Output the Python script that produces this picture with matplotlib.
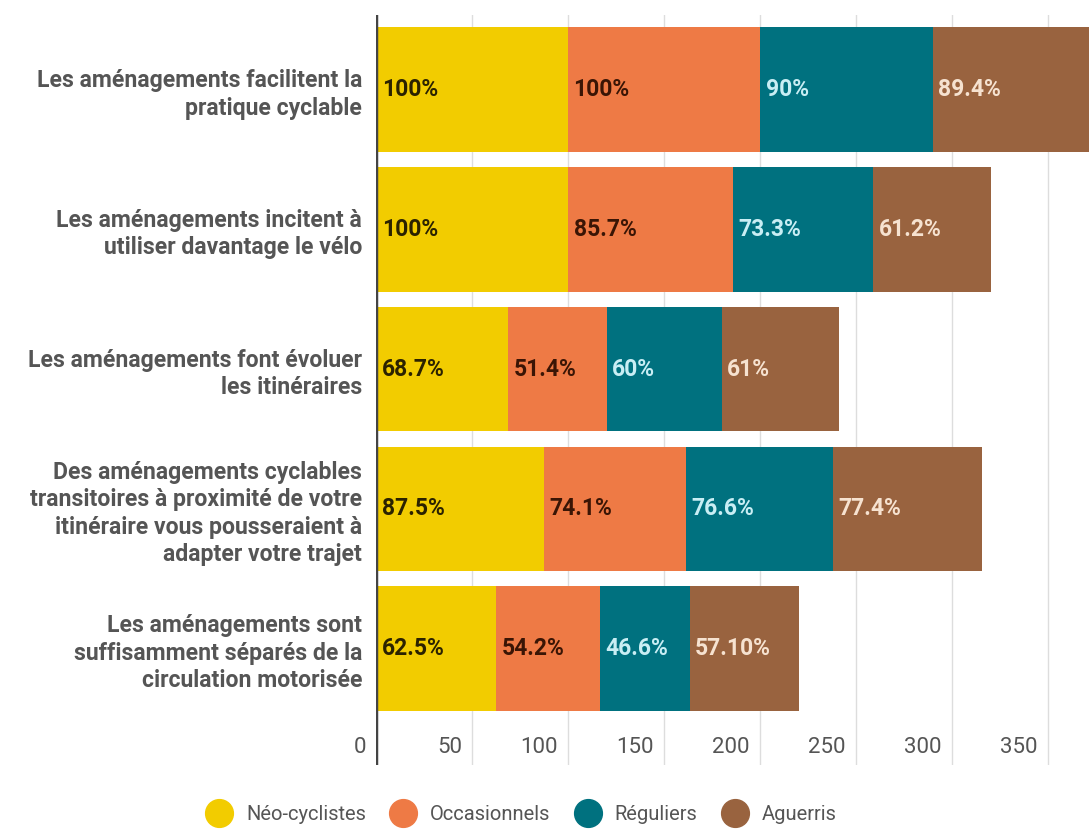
import matplotlib
matplotlib.use("Agg")
import matplotlib.pyplot as plt
from matplotlib.lines import Line2D
import matplotlib.transforms as mtransforms
import numpy as np

categories = [
    "Les aménagements facilitent la\npratique cyclable",
    "Les aménagements incitent à\nutiliser davantage le vélo",
    "Les aménagements font évoluer\nles itinéraires",
    "Des aménagements cyclables\ntransitoires à proximité de votre\nitinéraire vous pousseraient à\nadapter votre trajet",
    "Les aménagements sont\nsuffisamment séparés de la\ncirculation motorisée",
]
series_names = ["Néo-cyclistes", "Occasionnels", "Réguliers", "Aguerris"]
neo = [100, 100, 68.7, 87.5, 62.5]
occ = [100, 85.7, 51.4, 74.1, 54.2]
reg = [90, 73.3, 60, 76.6, 46.6]
agu = [89.4, 61.2, 61, 77.4, 57.1]
neo_labels = ["100%", "100%", "68.7%", "87.5%", "62.5%"]
occ_labels = ["100%", "85.7%", "51.4%", "74.1%", "54.2%"]
reg_labels = ["90%", "73.3%", "60%", "76.6%", "46.6%"]
agu_labels = ["89.4%", "61.2%", "61%", "77.4%", "57.10%"]
x_ticks = [0, 50, 100, 150, 200, 250, 300, 350]

colors = ["#F2CC00", "#EE7A45", "#00717F", "#99633F"]
label_colors = ["#2b2200", "#3a1505", "#c9eef4", "#f6e2d0"]
txt_gray = "#555555"

plt.rcParams['font.family'] = ['Roboto', 'DejaVu Sans']

fig = plt.figure(figsize=(10.89, 8.39), dpi=100)
ax = fig.add_axes([0.3453, 0.088, 0.6547, 0.894])

y = np.arange(len(categories))
left = np.zeros(len(categories))
all_vals = [neo, occ, reg, agu]
all_labels = [neo_labels, occ_labels, reg_labels, agu_labels]
for vals, labs, col, lcol, name in zip(all_vals, all_labels, colors, label_colors, series_names):
    vals = np.array(vals, dtype=float)
    ax.barh(y, vals, left=left, height=0.89, color=col, zorder=2, label=name)
    for yi, l, lab in zip(y, left, labs):
        ax.annotate(lab, (l, yi), xytext=(4, 0), textcoords="offset points",
                    ha="left", va="center", fontsize=16.5, fontweight="bold",
                    color=lcol, zorder=3)
    left += vals

ax.set_xlim(0, 371.4)
ax.set_ylim(4.834, -0.533)

# grid
for t in x_ticks[1:]:
    ax.axvline(t, color="#dddddd", lw=1, zorder=1)
ax.axvline(0, color="#444444", lw=2.5, zorder=4)

# x tick labels inside the axes, right-aligned left of grid line
ax.set_xticks([])
trans = mtransforms.blended_transform_factory(ax.transData, ax.transAxes)
offset = mtransforms.ScaledTranslation(-10 / 100, 0, fig.dpi_scale_trans)
for t in x_ticks:
    ax.text(t, 0.023, str(t), transform=trans + offset, ha="right", va="center",
            fontsize=16, color=txt_gray)

ax.set_yticks(y)
ax.set_yticklabels(categories, fontsize=16.6, fontweight="bold", color=txt_gray,
                   linespacing=1.25)
ax.tick_params(axis="y", length=0, pad=10)
for s in ax.spines.values():
    s.set_visible(False)

handles = [Line2D([0], [0], marker="o", color="none", markerfacecolor=c,
                  markeredgecolor=c, markersize=20) for c in colors]
leg = fig.legend(handles, series_names, loc="center", bbox_to_anchor=(0.479, 0.029),
                 ncol=4, frameon=False, handletextpad=0.75,
                 columnspacing=1.24, handlelength=1.2,
                 prop={'size': 14.5})
for t in leg.get_texts():
    t.set_color(txt_gray)

fig.savefig("out.png", dpi=100)
